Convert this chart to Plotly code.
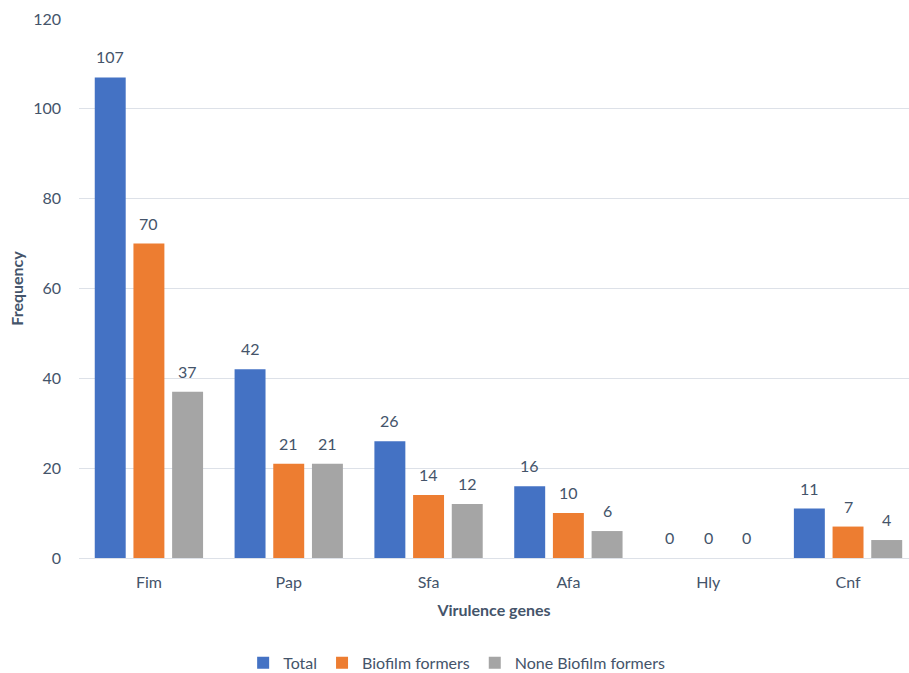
import plotly.graph_objects as go

# Virulence gene frequencies among isolates
genes = ["Fim", "Pap", "Sfa", "Afa", "Hly", "Cnf"]
total = [107, 42, 26, 16, 0, 11]
biofilm = [70, 21, 14, 10, 0, 7]
non_biofilm = [37, 21, 12, 6, 0, 4]

series = [
    ("Total", total, "#4472C4"),
    ("Biofilm formers", biofilm, "#ED7D31"),
    ("None Biofilm formers", non_biofilm, "#A5A5A5"),
]

FONT = "Lato, Open Sans, sans-serif"
TXT = "#44546A"
BARGAP = 0.17

fig = go.Figure()
for name, vals, col in series:
    fig.add_trace(go.Bar(
        x=list(range(len(genes))), y=vals, name=name,
        marker=dict(color=col, line=dict(width=0)),
    ))

# Value labels above each bar, placed at the grouped bar centres
slot = (1 - BARGAP) / len(series)
annotations = []
for si, (name, vals, col) in enumerate(series):
    off = (si - (len(series) - 1) / 2) * slot
    for ci, v in enumerate(vals):
        annotations.append(dict(
            x=ci + off, y=v, xref="x", yref="y", text=str(v),
            showarrow=False, yanchor="bottom", yshift=9,
            font=dict(family=FONT, size=16, color=TXT),
        ))

fig.update_layout(
    width=909, height=673,
    margin=dict(l=79, r=0, t=19, b=115, autoexpand=False),
    paper_bgcolor="white", plot_bgcolor="white",
    barmode="group", bargap=BARGAP, bargroupgap=0.2,
    font=dict(family=FONT, size=16, color=TXT),
    annotations=annotations,
    showlegend=True,
    legend=dict(orientation="h", x=0.455, xanchor="center",
                yref="container", y=0.015, yanchor="middle",
                font=dict(family=FONT, size=16, color=TXT), itemwidth=30,
                traceorder="normal"),
    xaxis=dict(
        tickmode="array", tickvals=list(range(len(genes))), ticktext=genes,
        range=[-0.5, 5.436], showgrid=False, zeroline=False, automargin=False,
        showline=False, ticks="", ticklabelstandoff=13,
        title=dict(text="<b>Virulence genes</b>", font=dict(size=16, color=TXT), standoff=14),
        tickfont=dict(size=16, color=TXT),
    ),
    yaxis=dict(
        range=[0, 120], dtick=20, showgrid=True, gridcolor="#DDE1E8", gridwidth=1.3,
        zeroline=True, zerolinecolor="#DDE1E8", zerolinewidth=1.3, automargin=False,
        showline=False, ticks="", ticklabelstandoff=17,
        title=dict(text="<b>Frequency</b>", font=dict(size=16, color=TXT), standoff=5),
        tickfont=dict(size=16, color=TXT),
    ),
)

fig.write_html("out.html")
